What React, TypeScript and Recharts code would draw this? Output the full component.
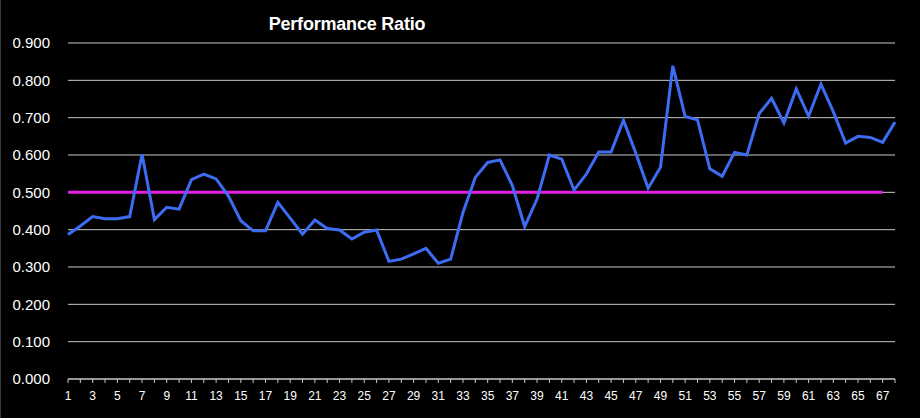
import { LineChart, Line, XAxis, YAxis, CartesianGrid } from 'recharts'

// Performance ratio per period (1..68).
const periods = Array.from({ length: 68 }, (_, i) => i + 1)

const ratio = [
  0.387, 0.41, 0.435, 0.429, 0.429, 0.435, 0.602, 0.427, 0.46, 0.455,
  0.534, 0.549, 0.536, 0.49, 0.424, 0.397, 0.397, 0.473, 0.431, 0.388,
  0.426, 0.403, 0.399, 0.375, 0.393, 0.399, 0.315, 0.321, 0.335, 0.35,
  0.31, 0.321, 0.446, 0.54, 0.58, 0.587, 0.518, 0.408, 0.482, 0.6,
  0.589, 0.506, 0.549, 0.608, 0.608, 0.693, 0.605, 0.511, 0.567, 0.839,
  0.703, 0.694, 0.563, 0.543, 0.607, 0.6, 0.711, 0.752, 0.686, 0.777,
  0.704, 0.79, 0.716, 0.632, 0.65, 0.647, 0.634, 0.688,
]

// Target line runs to period 67 only.
const target = periods.map((p) => (p <= 67 ? 0.5 : null))

const yTicks = [0, 0.1, 0.2, 0.3, 0.4, 0.5, 0.6, 0.7, 0.8, 0.9]

const data = periods.map((p, i) => ({ period: p, ratio: ratio[i], target: target[i] }))

const FONT = '"Liberation Sans", Arial, sans-serif'

// Every category gets a tick mark, only the odd ones get a label.
function PeriodTick(props: any) {
  const { x, y, payload } = props
  if (payload.value % 2 === 0) return <g />
  return (
    <text x={x} y={y + 15} textAnchor="middle" fill="#ffffff" fontSize={12} fontFamily={FONT}>
      {payload.value}
    </text>
  )
}

export default function App() {
  return (
    <div style={{ position: 'relative', width: 920, height: 418, background: '#000', boxSizing: 'border-box', borderLeft: '1px solid #3a3a3a' }}>
      <style>{'body{margin:0}'}</style>
      <div
        style={{
          position: 'absolute',
          left: 346,
          top: 14,
          transform: 'translateX(-50%)',
          color: '#fff',
          fontFamily: FONT,
          fontWeight: 'bold',
          fontSize: 18,
          letterSpacing: -0.2,
          whiteSpace: 'nowrap',
        }}
      >
        Performance Ratio
      </div>
      <LineChart width={919} height={418} data={data} margin={{ top: 43, right: 25, bottom: 0, left: 0 }}>
        <CartesianGrid horizontal vertical={false} stroke="#c8c8c8" strokeWidth={1} />
        <XAxis
          dataKey="period"
          interval={0}
          height={39}
          tick={<PeriodTick />}
          tickLine={{ stroke: '#c8c8c8' }}
          tickSize={4}
          axisLine={{ stroke: '#c8c8c8' }}
        />
        <YAxis
          width={67}
          domain={[0, 0.9]}
          ticks={yTicks}
          tickFormatter={(v: number) => v.toFixed(3)}
          axisLine={false}
          tickLine={false}
          tickMargin={12}
          tick={{ fill: '#ffffff', fontSize: 15, fontFamily: FONT }}
        />
        <Line dataKey="target" stroke="#e41ee4" strokeWidth={3} dot={false} isAnimationActive={false} />
        <Line dataKey="ratio" stroke="#3d6cf2" strokeWidth={3} dot={false} isAnimationActive={false} />
      </LineChart>
    </div>
  )
}
